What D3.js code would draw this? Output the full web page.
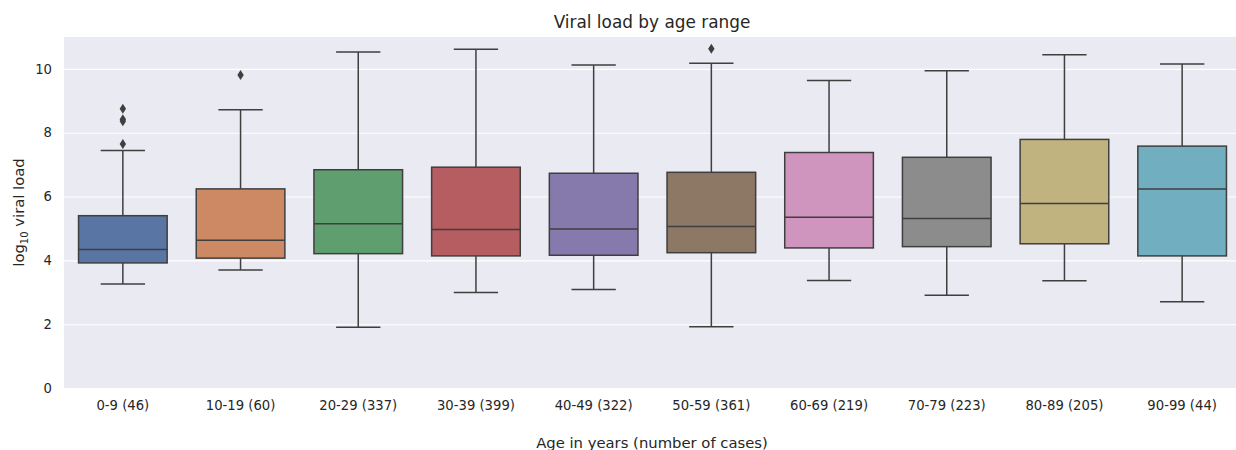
<!DOCTYPE html>
<html>
<head>
<meta charset="utf-8">
<script src="https://d3js.org/d3.v7.min.js"></script>
<style>
  body { margin: 0; background: #fff; }
  text { font-family: "DejaVu Sans", sans-serif; fill: #262626; }
</style>
</head>
<body>
<svg></svg>
<script>
// values
const categories = ['0-9', '10-19', '20-29', '30-39', '40-49', '50-59', '60-69', '70-79', '80-89', '90-99'];
const counts = [46, 60, 337, 399, 322, 361, 219, 223, 205, 44];
const q1 = [3.92, 4.07, 4.21, 4.14, 4.16, 4.24, 4.39, 4.43, 4.52, 4.14];
const medians = [4.34, 4.63, 5.15, 4.97, 4.98, 5.06, 5.35, 5.31, 5.78, 6.24];
const q3 = [5.40, 6.24, 6.84, 6.92, 6.73, 6.76, 7.38, 7.23, 7.79, 7.58];
const whiskerLow = [3.26, 3.70, 1.90, 2.99, 3.09, 1.92, 3.37, 2.91, 3.36, 2.70];
const whiskerHigh = [7.44, 8.72, 10.53, 10.62, 10.12, 10.18, 9.64, 9.94, 10.44, 10.15];
const outliers = [[8.75, 8.42, 8.36, 7.65], [9.81], [], [], [], [10.63], [], [], [], []];
const colors = ['#5975a4', '#cc8963', '#5f9e6e', '#b55d60', '#857aab', '#8d7866', '#d095bf', '#8c8c8c', '#c1b37f', '#71aec0'];
const yTicks = [0, 2, 4, 6, 8, 10];

const width = 1236;
const height = 450;
const plot = { left: 64, right: 1241, top: 37, bottom: 388 };
const edge = '#3f3f3f';

const svg = d3.select('svg')
  .attr('width', width)
  .attr('height', height);

const x = d3.scaleBand()
  .domain(categories)
  .range([plot.left, plot.right])
  .padding(0);
const y = d3.scaleLinear()
  .domain([0, 11])
  .range([plot.bottom, plot.top]);

const boxW = x.bandwidth() * 0.753;
const capW = boxW / 2;

svg.append('rect')
  .attr('x', plot.left)
  .attr('y', plot.top)
  .attr('width', plot.right - plot.left)
  .attr('height', plot.bottom - plot.top)
  .attr('fill', '#eaeaf2');

// grid + y labels through a d3 axis
const yAxis = svg.append('g')
  .attr('transform', `translate(${plot.left},0)`)
  .call(d3.axisLeft(y).tickValues(yTicks).tickSize(-(plot.right - plot.left)).tickPadding(12));
yAxis.select('.domain').remove();
yAxis.selectAll('line').attr('stroke', '#fff').attr('stroke-width', 1.1);
yAxis.selectAll('text').style('font-size', '13.2px').attr('fill', '#262626');

const xAxis = svg.append('g')
  .attr('transform', `translate(0,${plot.bottom})`)
  .call(d3.axisBottom(x).tickSize(0).tickPadding(13)
    .tickFormat((d, i) => `${d} (${counts[i]})`));
xAxis.select('.domain').remove();
xAxis.selectAll('text').style('font-size', '13.2px').attr('fill', '#262626');

const rows = categories.map((c, i) => ({
  cat: c, q1: q1[i], med: medians[i], q3: q3[i],
  lo: whiskerLow[i], hi: whiskerHigh[i], out: outliers[i], color: colors[i]
}));

const g = svg.append('g').selectAll('g')
  .data(rows)
  .join('g')
  .attr('transform', d => `translate(${x(d.cat) + x.bandwidth() / 2},0)`);

const lw = 1.5;
// whiskers
g.append('line')
  .attr('x1', 0).attr('x2', 0)
  .attr('y1', d => y(d.q3)).attr('y2', d => y(d.hi))
  .attr('stroke', edge).attr('stroke-width', lw);
g.append('line')
  .attr('x1', 0).attr('x2', 0)
  .attr('y1', d => y(d.q1)).attr('y2', d => y(d.lo))
  .attr('stroke', edge).attr('stroke-width', lw);
// caps
g.append('line')
  .attr('x1', -capW / 2).attr('x2', capW / 2)
  .attr('y1', d => y(d.hi)).attr('y2', d => y(d.hi))
  .attr('stroke', edge).attr('stroke-width', lw);
g.append('line')
  .attr('x1', -capW / 2).attr('x2', capW / 2)
  .attr('y1', d => y(d.lo)).attr('y2', d => y(d.lo))
  .attr('stroke', edge).attr('stroke-width', lw);
// box
g.append('rect')
  .attr('x', -boxW / 2)
  .attr('width', boxW)
  .attr('y', d => y(d.q3))
  .attr('height', d => y(d.q1) - y(d.q3))
  .attr('fill', d => d.color)
  .attr('stroke', edge).attr('stroke-width', lw);
// median
g.append('line')
  .attr('x1', -boxW / 2).attr('x2', boxW / 2)
  .attr('y1', d => y(d.med)).attr('y2', d => y(d.med))
  .attr('stroke', edge).attr('stroke-width', lw);
// outliers (thin diamonds)
g.selectAll('path.out')
  .data(d => d.out)
  .join('path')
  .attr('class', 'out')
  .attr('d', v => {
    const cy = y(v);
    return `M0,${cy - 5} L3.2,${cy} L0,${cy + 5} L-3.2,${cy} Z`;
  })
  .attr('fill', edge);

svg.append('text')
  .attr('x', 652)
  .attr('y', 28)
  .attr('text-anchor', 'middle')
  .style('font-size', '16.9px')
  .text('Viral load by age range');

svg.append('text')
  .attr('x', 652)
  .attr('y', 448)
  .attr('text-anchor', 'middle')
  .style('font-size', '14.8px')
  .text('Age in years (number of cases)');

const yl = svg.append('text')
  .attr('transform', `translate(24,${(plot.top + plot.bottom) / 2}) rotate(-90)`)
  .attr('text-anchor', 'middle')
  .style('font-size', '14.8px');
yl.append('tspan').text('log');
yl.append('tspan').attr('dy', 4).style('font-size', '10px').text('10');
yl.append('tspan').attr('dy', -4).text(' viral load');
</script>
</body>
</html>
